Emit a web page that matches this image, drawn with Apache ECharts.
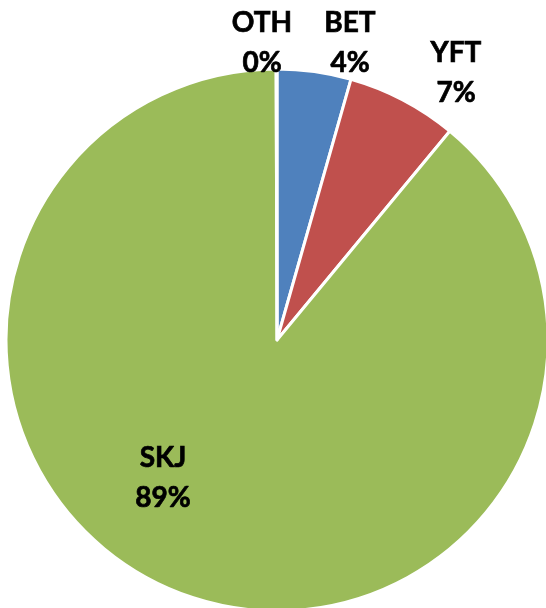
<!DOCTYPE html>
<html>
<head>
<meta charset="utf-8">
<script src="https://cdn.jsdelivr.net/npm/echarts@6.0.0/dist/echarts.min.js"></script>
<style>
  html, body { margin: 0; padding: 0; background: #fff; }
  #chart { width: 546px; height: 608px; }
</style>
</head>
<body>
<div id="chart"></div>
<script>
// catch composition (share of total)
const species = ['BET', 'YFT', 'SKJ', 'OTH'];
const shares = [4.4, 6.6, 88.95, 0.05];
const colors = ['#4F81BD', '#C0504D', '#9BBB59', '#8064A2'];

// Excel "best fit" label spots, in pixels
const labelSpots = {
    BET: [350, 43],
    YFT: [456, 73],
    SKJ: [163, 478],
    OTH: [262, 43]
};

const chart = echarts.init(document.getElementById('chart'));

chart.setOption({
    animation: false,
    series: [{
        type: 'pie',
        center: [277, 340],
        radius: 271,
        startAngle: 90,
        clockwise: true,
        minAngle: 0,
        avoidLabelOverlap: false,
        data: species.map((name, i) => ({
            name: name,
            value: shares[i],
            itemStyle: { color: colors[i] }
        })),
        itemStyle: { borderColor: '#fff', borderWidth: 3 },
        label: {
            show: true,
            position: 'inside',
            formatter: (p) => p.name + '\n' + Math.round(p.percent) + '%',
            fontFamily: 'Lato',
            fontWeight: 'bold',
            fontSize: 28,
            lineHeight: 40,
            color: '#000',
            textBorderColor: '#000',
            textBorderWidth: 0.7,
            align: 'center'
        },
        labelLine: { show: false },
        labelLayout: (params) => {
            const name = species[params.dataIndex];
            const spot = labelSpots[name];
            return { x: spot[0], y: spot[1], align: 'center', verticalAlign: 'middle' };
        },
        emphasis: { disabled: true }
    }]
});

window.addEventListener('resize', () => chart.resize());
</script>
</body>
</html>
